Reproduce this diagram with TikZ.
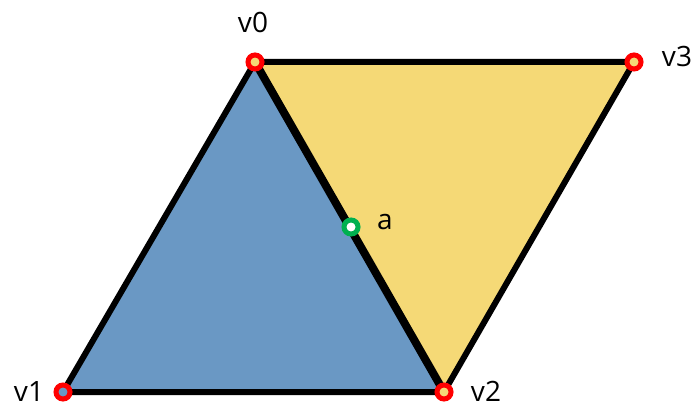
\documentclass[tikz,border=0pt]{standalone}
\usepackage{fontspec}
\setmainfont{Open Sans}
\definecolor{triblue}{HTML}{6A98C4}
\definecolor{triyellow}{HTML}{F5D976}
\definecolor{ptgreen}{HTML}{00B050}
\begin{document}
\begin{tikzpicture}[x=1pt,y=-1pt,
  edge/.style={line width=6pt,line join=round,line cap=round},
  vmark/.style={circle,draw=red,line width=5pt,minimum size=14pt,inner sep=0pt},
  amark/.style={circle,draw=ptgreen,fill=white,line width=5pt,minimum size=14pt,inner sep=0pt},
  lbl/.style={font=\fontsize{28}{30}\selectfont,inner sep=0pt}]
\useasboundingbox (0,0) rectangle (697,409);
\coordinate (v0) at (255,62);
\coordinate (v1) at (63,392);
\coordinate (v2) at (444,392);
\coordinate (v3) at (634,62);
\coordinate (a) at (351,227);
\fill[triblue] (v0) -- (v1) -- (v2) -- cycle;
\fill[triyellow] (v0) -- (v2) -- (v3) -- cycle;
\draw[edge] (v0) -- (v1) -- (v2);
\draw[edge] (v0) -- (v3) -- (v2);
\draw[edge,line width=8pt] (v0) -- (v2);
\node[vmark,fill=triyellow] (m0) at (v0) {};
\node[vmark,fill=triblue] (m1) at (v1) {};
\node[vmark,fill=triyellow] (m2) at (v2) {};
\node[vmark,fill=triyellow] (m3) at (v3) {};
\node[amark] (ma) at (a) {};
\node[lbl] (l0) at (253,22) {v0};
\node[lbl] (l1) at (29,392) {v1};
\node[lbl] (l2) at (486,391) {v2};
\node[lbl] (l3) at (677,57) {v3};
\node[lbl] (la) at (385,222) {a};
\end{tikzpicture}
\end{document}
